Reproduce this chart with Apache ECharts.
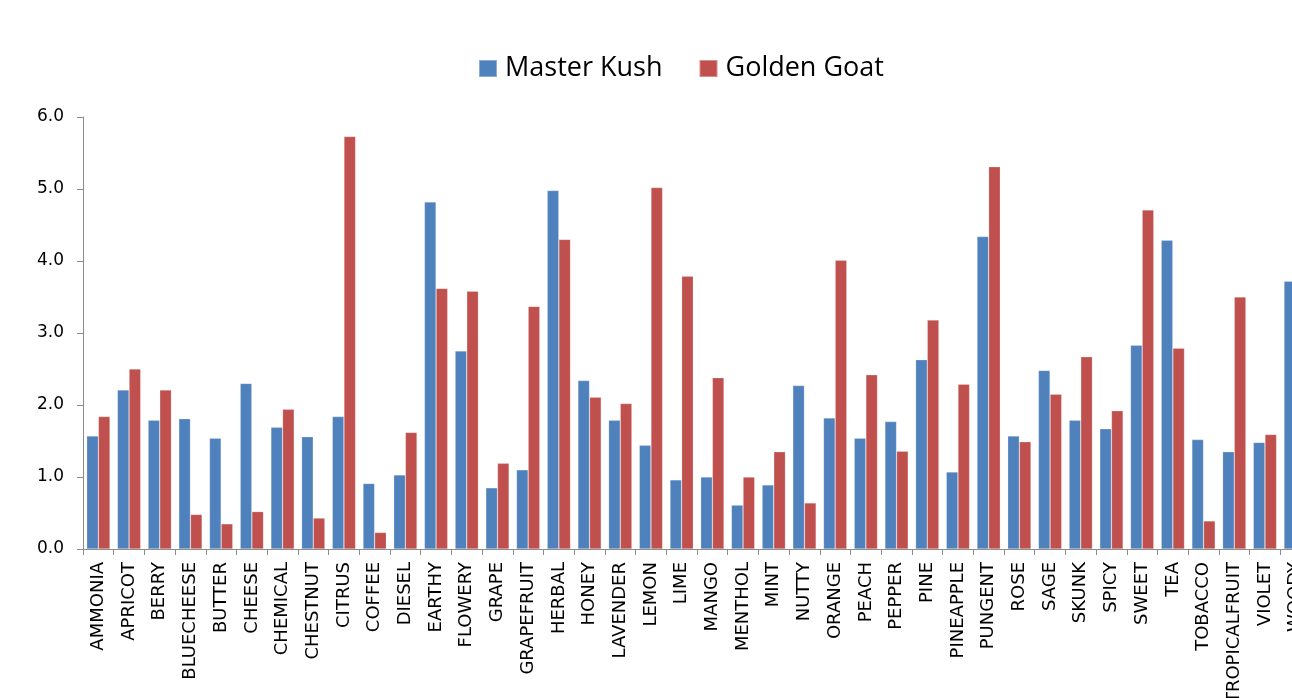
<!DOCTYPE html>
<html>
<head>
<meta charset="utf-8">
<script src="https://cdn.jsdelivr.net/npm/echarts@6/dist/echarts.min.js"></script>
<style>
  html, body { margin: 0; padding: 0; background: #fff; }
  #chart { width: 1292px; height: 698px; }
</style>
</head>
<body>
<div id="chart"></div>
<script>
// Aroma categories (terpene / flavour descriptors)
const categories = [
  'AMMONIA', 'APRICOT', 'BERRY', 'BLUECHEESE', 'BUTTER', 'CHEESE', 'CHEMICAL', 'CHESTNUT',
  'CITRUS', 'COFFEE', 'DIESEL', 'EARTHY', 'FLOWERY', 'GRAPE', 'GRAPEFRUIT', 'HERBAL',
  'HONEY', 'LAVENDER', 'LEMON', 'LIME', 'MANGO', 'MENTHOL', 'MINT', 'NUTTY', 'ORANGE',
  'PEACH', 'PEPPER', 'PINE', 'PINEAPPLE', 'PUNGENT', 'ROSE', 'SAGE', 'SKUNK', 'SPICY',
  'SWEET', 'TEA', 'TOBACCO', 'TROPICALFRUIT', 'VIOLET', 'WOODY'
];

// Average score per descriptor
const masterKush = [
  1.57, 2.21, 1.79, 1.81, 1.54, 2.30, 1.69, 1.56, 1.84, 0.91,
  1.03, 4.82, 2.75, 0.85, 1.10, 4.98, 2.34, 1.79, 1.44, 0.96,
  1.00, 0.61, 0.89, 2.27, 1.82, 1.54, 1.77, 2.63, 1.07, 4.34,
  1.57, 2.48, 1.79, 1.67, 2.83, 4.29, 1.52, 1.35, 1.48, 3.72
];
const goldenGoat = [
  1.84, 2.50, 2.21, 0.48, 0.35, 0.52, 1.94, 0.43, 5.73, 0.23,
  1.62, 3.62, 3.58, 1.19, 3.37, 4.30, 2.11, 2.02, 5.02, 3.79,
  2.38, 1.00, 1.35, 0.64, 4.01, 2.42, 1.36, 3.18, 2.29, 5.31,
  1.49, 2.15, 2.67, 1.92, 4.71, 2.79, 0.39, 3.50, 1.59, null
];

const yTicks = { min: 0, max: 6, step: 1 };

const AXIS_FONT = '"DejaVu Sans", Verdana, sans-serif';
const LEGEND_FONT = '"Open Sans", "Noto Sans", sans-serif';

const chart = echarts.init(document.getElementById('chart'), null, { renderer: 'canvas' });

chart.setOption({
  animation: false,
  backgroundColor: '#ffffff',
  legend: {
    data: ['Master Kush', 'Golden Goat'],
    left: 478,
    top: 55,
    padding: 0,
    itemWidth: 18,
    itemHeight: 17,
    itemGap: 36,
    icon: 'rect',
    textStyle: { fontFamily: LEGEND_FONT, fontSize: 27, color: '#000', padding: [0, 0, 0, 3] }
  },
  grid: {
    left: 83,
    right: -19,
    top: 117,
    bottom: 149,
    containLabel: false,
    outerBoundsMode: 'none'
  },
  xAxis: {
    type: 'category',
    data: categories,
    axisLine: { lineStyle: { color: '#8c8c8c', width: 1 } },
    axisTick: { show: true, length: 6, lineStyle: { color: '#8c8c8c' } },
    axisLabel: {
      rotate: 90,
      interval: 0,
      margin: 13,
      fontFamily: AXIS_FONT,
      fontSize: 18,
      color: '#000'
    },
    splitLine: { show: false }
  },
  yAxis: {
    type: 'value',
    min: yTicks.min,
    max: yTicks.max,
    interval: yTicks.step,
    axisLine: { show: true, lineStyle: { color: '#8c8c8c', width: 1 } },
    axisTick: { show: true, length: 6, lineStyle: { color: '#8c8c8c' } },
    axisLabel: {
      margin: 19,
      fontFamily: AXIS_FONT,
      fontSize: 17,
      color: '#000',
      formatter: v => v.toFixed(1)
    },
    splitLine: { show: false }
  },
  series: [
    {
      name: 'Master Kush',
      type: 'bar',
      data: masterKush,
      barGap: '0%',
      barCategoryGap: '24%',
      itemStyle: { color: '#4F81BD', borderColor: 'rgba(255,255,255,0.35)', borderWidth: 0.6 }
    },
    {
      name: 'Golden Goat',
      type: 'bar',
      data: goldenGoat,
      barGap: '0%',
      barCategoryGap: '24%',
      itemStyle: { color: '#C0504D', borderColor: 'rgba(255,255,255,0.35)', borderWidth: 0.6 }
    }
  ]
});
</script>
</body>
</html>
